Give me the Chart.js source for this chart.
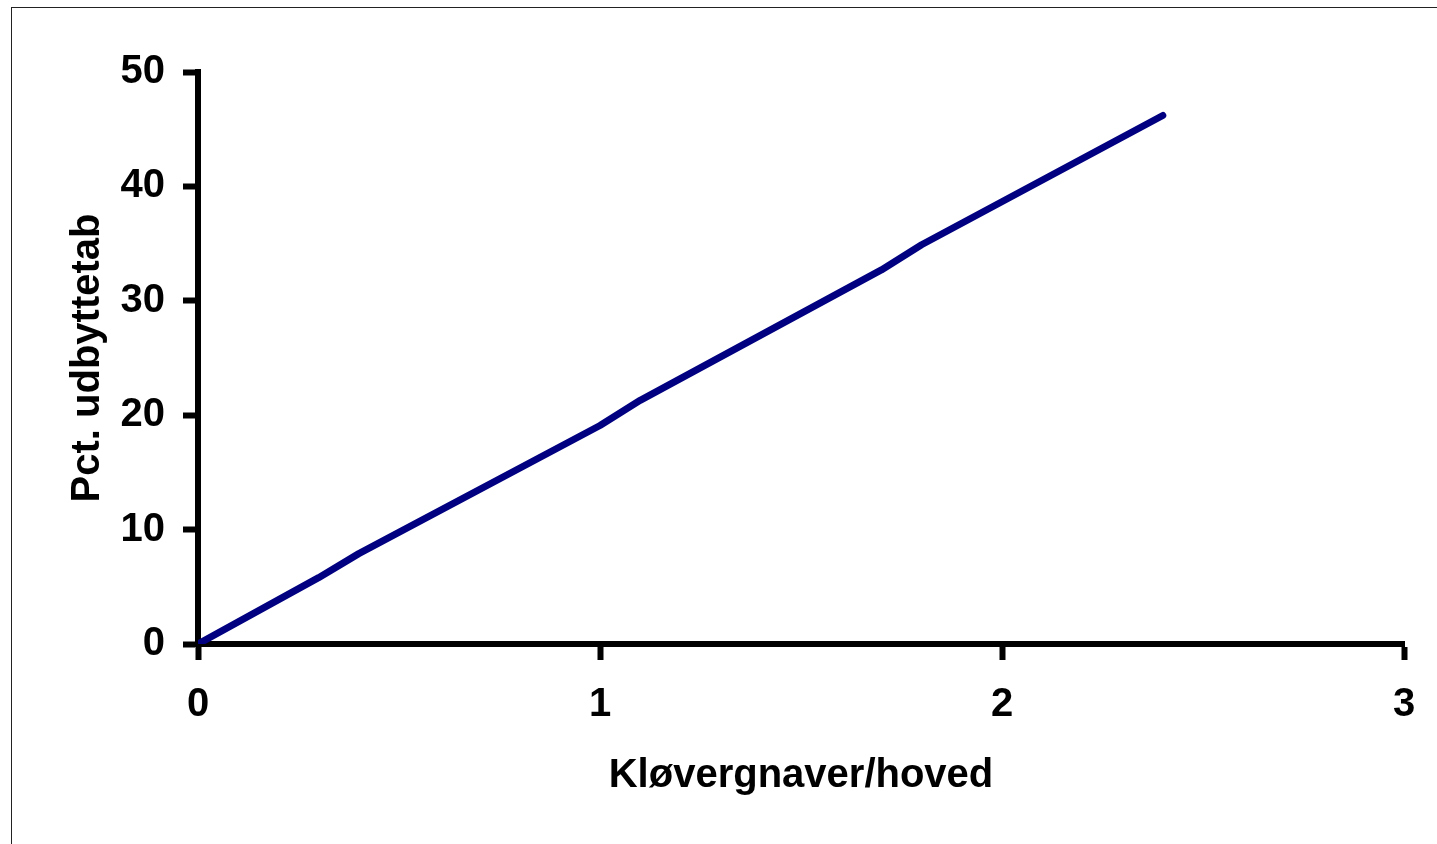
<!DOCTYPE html>
<html>
<head>
<meta charset="utf-8">
<script src="https://cdn.jsdelivr.net/npm/chart.js@4/dist/chart.umd.min.js"></script>
<style>
  body { margin: 0; background: #fff; overflow: hidden; }
  #wrap { position: relative; width: 1437px; height: 844px; }
  #frame { position: absolute; left: 11px; top: 7px; width: 1440px; height: 850px; border: 1px solid #222; }
  canvas { position: absolute; left: 0; top: 0; }
</style>
</head>
<body>
<div id="wrap">
  <div id="frame"></div>
  <canvas id="myChart" width="1437" height="844"></canvas>
</div>
<script>
const ctx = document.getElementById('myChart');

// klovergnaver pr. hoved -> pct. udbyttetab
const xValues = [0, 0.3, 0.4, 1.0, 1.1, 1.7, 1.8, 2.4];
const yValues = [0, 5.8, 7.9, 19.1, 21.3, 32.7, 34.9, 46.2];
const xTitle = 'Kløvergnaver/hoved';
const yTitle = 'Pct. udbyttetab';

let points = [];
for (let i = 0; i < xValues.length; i++) {
    points.push({ x: xValues[i], y: yValues[i] });
}

const font = { family: 'Liberation Sans, Arial, sans-serif', size: 40, weight: 'bold' };

var myChart = new Chart(ctx, {
    type: 'scatter',
    data: {
        datasets: [{
            data: points,
            showLine: true,
            borderColor: '#000080',
            borderWidth: 7,
            borderCapStyle: 'round',
            borderJoinStyle: 'round',
            pointRadius: 0,
            tension: 0
        }]
    },
    options: {
        responsive: false,
        animation: false,
        layout: { padding: { left: 60, top: 72, right: 33, bottom: 40 } },
        plugins: { legend: { display: false }, tooltip: { enabled: false } },
        scales: {
            x: {
                type: 'linear',
                min: 0, max: 3,
                ticks: { stepSize: 1, color: '#000', font: font, padding: 21, maxRotation: 0 },
                grid: { drawOnChartArea: false, drawTicks: true, tickLength: 16, tickWidth: 6, tickColor: '#000' },
                border: { color: '#000', width: 6 },
                title: { display: true, text: xTitle, color: '#000', font: font, padding: { top: 16 } },
                afterFit: function (s) { s.height = 844 - 644 - 40; }
            },
            y: {
                min: 0, max: 50,
                ticks: { stepSize: 10, color: '#000', font: font, padding: 18 },
                grid: { drawOnChartArea: false, drawTicks: true, tickLength: 15, tickWidth: 6, tickColor: '#000' },
                border: { color: '#000', width: 6 },
                title: { display: true, text: yTitle, color: '#000', font: font, padding: { bottom: 10 } },
                afterFit: function (s) { s.width = 198 - 60; }
            }
        }
    }
});
</script>
</body>
</html>
